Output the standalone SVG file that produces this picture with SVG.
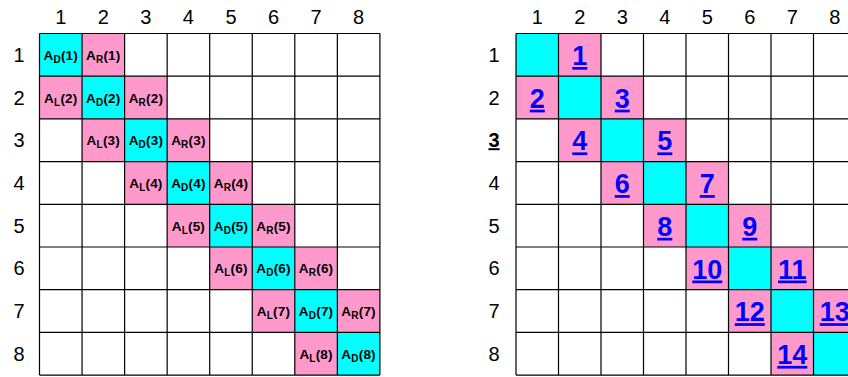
<svg xmlns="http://www.w3.org/2000/svg" width="848" height="377" viewBox="0 0 848 377">
<style>
.bg{fill:#ffffff}
.c{fill:#00ffff}
.p{fill:#ff99cc}
.grid{fill:none;stroke:#000;stroke-width:1.2}
.hd{font-family:"Liberation Sans",Arial,sans-serif;font-size:20px;fill:#000;text-anchor:middle}
.hdb{font-family:"Liberation Sans",Arial,sans-serif;font-size:20px;font-weight:bold;fill:#000;text-anchor:middle;text-decoration:underline}
.lb{font-family:"Liberation Sans",Arial,sans-serif;font-size:13.5px;font-weight:bold;fill:#000;text-anchor:middle;letter-spacing:0.2px}
.sb{font-size:10px}
.num{font-family:"Liberation Sans",Arial,sans-serif;font-size:27px;font-weight:bold;fill:#0000ff;text-anchor:middle;text-decoration:underline}
</style>
<rect class="bg" x="0" y="0" width="848" height="377"/>
<g id="left-headers">
<text class="hd" x="60.8" y="24">1</text><text class="hd" x="103.3" y="24">2</text><text class="hd" x="145.9" y="24">3</text><text class="hd" x="188.4" y="24">4</text><text class="hd" x="231" y="24">5</text><text class="hd" x="273.5" y="24">6</text><text class="hd" x="316.1" y="24">7</text><text class="hd" x="358.6" y="24">8</text>
<text class="hd" x="19" y="61.8">1</text><text class="hd" x="19" y="104.5">2</text><text class="hd" x="19" y="147.2">3</text><text class="hd" x="19" y="189.9">4</text><text class="hd" x="19" y="232.6">5</text><text class="hd" x="19" y="275.3">6</text><text class="hd" x="19" y="318">7</text><text class="hd" x="19" y="360.7">8</text>
</g>
<g id="left-grid">
<rect class="c" x="39.5" y="33.5" width="42.55" height="42.7"/><rect class="p" x="82.05" y="33.5" width="42.55" height="42.7"/>
<rect class="p" x="39.5" y="76.2" width="42.55" height="42.7"/><rect class="c" x="82.05" y="76.2" width="42.55" height="42.7"/><rect class="p" x="124.6" y="76.2" width="42.55" height="42.7"/>
<rect class="p" x="82.05" y="118.9" width="42.55" height="42.7"/><rect class="c" x="124.6" y="118.9" width="42.55" height="42.7"/><rect class="p" x="167.15" y="118.9" width="42.55" height="42.7"/>
<rect class="p" x="124.6" y="161.6" width="42.55" height="42.7"/><rect class="c" x="167.15" y="161.6" width="42.55" height="42.7"/><rect class="p" x="209.7" y="161.6" width="42.55" height="42.7"/>
<rect class="p" x="167.15" y="204.3" width="42.55" height="42.7"/><rect class="c" x="209.7" y="204.3" width="42.55" height="42.7"/><rect class="p" x="252.25" y="204.3" width="42.55" height="42.7"/>
<rect class="p" x="209.7" y="247" width="42.55" height="42.7"/><rect class="c" x="252.25" y="247" width="42.55" height="42.7"/><rect class="p" x="294.8" y="247" width="42.55" height="42.7"/>
<rect class="p" x="252.25" y="289.7" width="42.55" height="42.7"/><rect class="c" x="294.8" y="289.7" width="42.55" height="42.7"/><rect class="p" x="337.35" y="289.7" width="42.55" height="42.7"/>
<rect class="p" x="294.8" y="332.4" width="42.55" height="42.7"/><rect class="c" x="337.35" y="332.4" width="42.55" height="42.7"/>
<path class="grid" d="M39.5 33.5V375.1M82.05 33.5V375.1M124.6 33.5V375.1M167.15 33.5V375.1M209.7 33.5V375.1M252.25 33.5V375.1M294.8 33.5V375.1M337.35 33.5V375.1M379.9 33.5V375.1M39.5 33.5H379.9M39.5 76.2H379.9M39.5 118.9H379.9M39.5 161.6H379.9M39.5 204.3H379.9M39.5 247H379.9M39.5 289.7H379.9M39.5 332.4H379.9M39.5 375.1H379.9"/>
</g>
<g id="left-labels">
<text class="lb" x="60.8" y="59.8">A<tspan class="sb" dy="3">D</tspan><tspan dy="-3">(1)</tspan></text>
<text class="lb" x="103.3" y="59.8">A<tspan class="sb" dy="3">R</tspan><tspan dy="-3">(1)</tspan></text>
<text class="lb" x="60.8" y="102.5">A<tspan class="sb" dy="3">L</tspan><tspan dy="-3">(2)</tspan></text>
<text class="lb" x="103.3" y="102.5">A<tspan class="sb" dy="3">D</tspan><tspan dy="-3">(2)</tspan></text>
<text class="lb" x="145.9" y="102.5">A<tspan class="sb" dy="3">R</tspan><tspan dy="-3">(2)</tspan></text>
<text class="lb" x="103.3" y="145.2">A<tspan class="sb" dy="3">L</tspan><tspan dy="-3">(3)</tspan></text>
<text class="lb" x="145.9" y="145.2">A<tspan class="sb" dy="3">D</tspan><tspan dy="-3">(3)</tspan></text>
<text class="lb" x="188.4" y="145.2">A<tspan class="sb" dy="3">R</tspan><tspan dy="-3">(3)</tspan></text>
<text class="lb" x="145.9" y="187.9">A<tspan class="sb" dy="3">L</tspan><tspan dy="-3">(4)</tspan></text>
<text class="lb" x="188.4" y="187.9">A<tspan class="sb" dy="3">D</tspan><tspan dy="-3">(4)</tspan></text>
<text class="lb" x="231" y="187.9">A<tspan class="sb" dy="3">R</tspan><tspan dy="-3">(4)</tspan></text>
<text class="lb" x="188.4" y="230.6">A<tspan class="sb" dy="3">L</tspan><tspan dy="-3">(5)</tspan></text>
<text class="lb" x="231" y="230.6">A<tspan class="sb" dy="3">D</tspan><tspan dy="-3">(5)</tspan></text>
<text class="lb" x="273.5" y="230.6">A<tspan class="sb" dy="3">R</tspan><tspan dy="-3">(5)</tspan></text>
<text class="lb" x="231" y="273.3">A<tspan class="sb" dy="3">L</tspan><tspan dy="-3">(6)</tspan></text>
<text class="lb" x="273.5" y="273.3">A<tspan class="sb" dy="3">D</tspan><tspan dy="-3">(6)</tspan></text>
<text class="lb" x="316.1" y="273.3">A<tspan class="sb" dy="3">R</tspan><tspan dy="-3">(6)</tspan></text>
<text class="lb" x="273.5" y="316">A<tspan class="sb" dy="3">L</tspan><tspan dy="-3">(7)</tspan></text>
<text class="lb" x="316.1" y="316">A<tspan class="sb" dy="3">D</tspan><tspan dy="-3">(7)</tspan></text>
<text class="lb" x="358.6" y="316">A<tspan class="sb" dy="3">R</tspan><tspan dy="-3">(7)</tspan></text>
<text class="lb" x="316.1" y="358.7">A<tspan class="sb" dy="3">L</tspan><tspan dy="-3">(8)</tspan></text>
<text class="lb" x="358.6" y="358.7">A<tspan class="sb" dy="3">D</tspan><tspan dy="-3">(8)</tspan></text>
</g>
<g id="right-headers">
<text class="hd" x="537.3" y="24">1</text><text class="hd" x="579.8" y="24">2</text><text class="hd" x="622.3" y="24">3</text><text class="hd" x="664.8" y="24">4</text><text class="hd" x="707.3" y="24">5</text><text class="hd" x="749.8" y="24">6</text><text class="hd" x="792.3" y="24">7</text><text class="hd" x="834.8" y="24">8</text>
<text class="hd" x="494" y="61.8">1</text><text class="hd" x="494" y="104.5">2</text><text class="hdb" x="494" y="147.2">3</text><text class="hd" x="494" y="189.9">4</text><text class="hd" x="494" y="232.6">5</text><text class="hd" x="494" y="275.3">6</text><text class="hd" x="494" y="318">7</text><text class="hd" x="494" y="360.7">8</text>
</g>
<g id="right-grid">
<rect class="c" x="516" y="33.5" width="42.5" height="42.7"/><rect class="p" x="558.5" y="33.5" width="42.5" height="42.7"/>
<rect class="p" x="516" y="76.2" width="42.5" height="42.7"/><rect class="c" x="558.5" y="76.2" width="42.5" height="42.7"/><rect class="p" x="601" y="76.2" width="42.5" height="42.7"/>
<rect class="p" x="558.5" y="118.9" width="42.5" height="42.7"/><rect class="c" x="601" y="118.9" width="42.5" height="42.7"/><rect class="p" x="643.5" y="118.9" width="42.5" height="42.7"/>
<rect class="p" x="601" y="161.6" width="42.5" height="42.7"/><rect class="c" x="643.5" y="161.6" width="42.5" height="42.7"/><rect class="p" x="686" y="161.6" width="42.5" height="42.7"/>
<rect class="p" x="643.5" y="204.3" width="42.5" height="42.7"/><rect class="c" x="686" y="204.3" width="42.5" height="42.7"/><rect class="p" x="728.5" y="204.3" width="42.5" height="42.7"/>
<rect class="p" x="686" y="247" width="42.5" height="42.7"/><rect class="c" x="728.5" y="247" width="42.5" height="42.7"/><rect class="p" x="771" y="247" width="42.5" height="42.7"/>
<rect class="p" x="728.5" y="289.7" width="42.5" height="42.7"/><rect class="c" x="771" y="289.7" width="42.5" height="42.7"/><rect class="p" x="813.5" y="289.7" width="42.5" height="42.7"/>
<rect class="p" x="771" y="332.4" width="42.5" height="42.7"/><rect class="c" x="813.5" y="332.4" width="42.5" height="42.7"/>
<path class="grid" d="M516 33.5V375.1M558.5 33.5V375.1M601 33.5V375.1M643.5 33.5V375.1M686 33.5V375.1M728.5 33.5V375.1M771 33.5V375.1M813.5 33.5V375.1M856 33.5V375.1M516 33.5H856M516 76.2H856M516 118.9H856M516 161.6H856M516 204.3H856M516 247H856M516 289.7H856M516 332.4H856M516 375.1H856"/>
</g>
<g id="right-labels">
<text class="num" x="579.8" y="65">1</text>
<text class="num" x="537.3" y="107.7">2</text>
<text class="num" x="622.3" y="107.7">3</text>
<text class="num" x="579.8" y="150.4">4</text>
<text class="num" x="664.8" y="150.4">5</text>
<text class="num" x="622.3" y="193.1">6</text>
<text class="num" x="707.3" y="193.1">7</text>
<text class="num" x="664.8" y="235.8">8</text>
<text class="num" x="749.8" y="235.8">9</text>
<text class="num" x="707.3" y="278.5">10</text>
<text class="num" x="792.3" y="278.5">11</text>
<text class="num" x="749.8" y="321.2">12</text>
<text class="num" x="834.8" y="321.2">13</text>
<text class="num" x="792.3" y="363.9">14</text>
</g>
</svg>
